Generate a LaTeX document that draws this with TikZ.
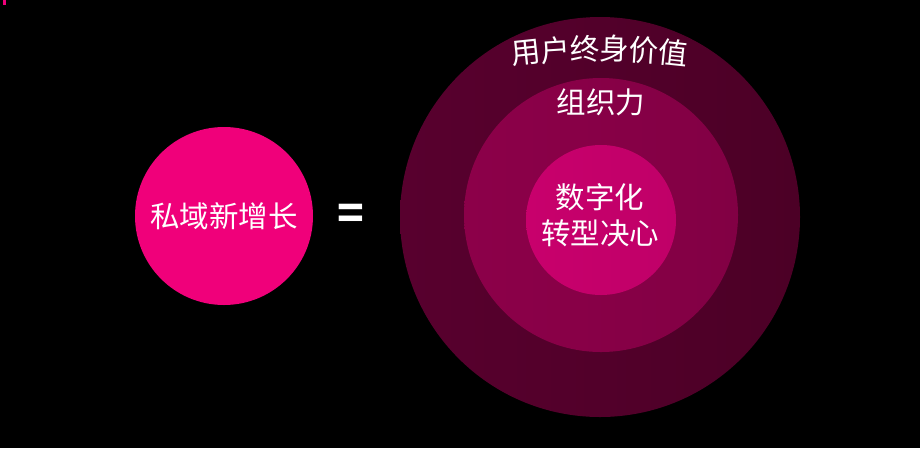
\documentclass[tikz,border=0pt]{standalone}
\usepackage{fontspec}
\newfontfamily\cjk{Noto Sans CJK SC}
\definecolor{hotpink}{HTML}{F0007A}
\definecolor{coreA}{HTML}{C8006C}
\definecolor{coreB}{HTML}{C00068}
\definecolor{midA}{HTML}{8C0049}
\definecolor{midB}{HTML}{820044}
\definecolor{outA}{HTML}{58002E}
\definecolor{outB}{HTML}{4C0026}
\tikzset{
  disc/.style={circle, inner sep=0pt, draw=none},
  label/.style={text=white, font=\cjk\fontsize{29.5}{36}\selectfont, inner sep=0pt, align=center},
}
\begin{document}
\begin{tikzpicture}[x=1pt, y=-1pt]
  % page
  \fill[black] (0,0) rectangle (920,448);
  \useasboundingbox (0,0) rectangle (920,448);
  \fill[hotpink] (3,0) rectangle (6,5);

  % left disc
  \node[disc, fill=hotpink, minimum size=178pt] (growth) at (224,216) {};
  \node[label] (growthtext) at (growth.center) {私域新增长};

  % equals sign
  \node[text=white, font=\cjk\bfseries\fontsize{44}{44}\selectfont, inner sep=0pt] (eq) at (351,217) {=};

  % nested discs
  \node[disc, left color=outA, right color=outB, minimum size=400pt] (outer) at (600,217) {};
  \node[disc, left color=midA, right color=midB, minimum size=274pt] (middle) at (601,215) {};
  \node[disc, left color=coreA, right color=coreB, minimum size=150pt] (core) at (601,220) {};

  % labels
  \foreach \ch [count=\i from 0] in {用,户,终,身,价,值}{
    \pgfmathsetmacro\dx{(\i-2.5)*29.5}
    \node[label, rotate={-\dx*0.082}] (life\i) at ({600+\dx},{49+\dx*\dx/1400}) {\ch};
  }
  \node[label] (org) at (601,102) {组织力};
  \node[label] (coretext) at (600,215) {数字化\\转型决心};
\end{tikzpicture}
\end{document}
